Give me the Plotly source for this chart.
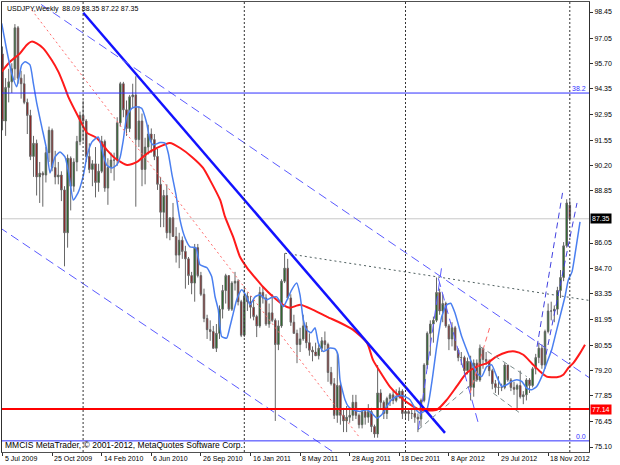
import plotly.graph_objects as go

# ---------------- weekly OHLC (bar 0 = week of 5 Jul 2009) ----------------
opens = [96.20, 92.60, 94.40, 94.70, 95.40, 97.60, 94.90, 94.60, 93.60, 92.90,
         90.70, 91.40, 89.60, 89.80, 89.70, 90.90, 92.10, 90.10, 89.60, 89.70,
         88.90, 86.60, 90.60, 89.10, 90.40, 91.50, 92.90, 92.60, 90.70, 90.00,
         90.30, 89.30, 89.90, 91.50, 89.00, 90.10, 90.50, 90.50, 92.50, 94.60,
         93.20, 92.20, 93.90, 94.00, 91.60, 92.60, 90.00, 91.20, 91.90, 91.60,
         90.70, 89.20, 87.70, 88.60, 86.60, 87.40, 86.40, 85.40, 86.20, 85.60,
         85.20, 84.30, 83.90, 85.80, 84.30, 83.30, 82.00, 81.40, 81.30, 80.40,
         81.20, 82.50, 83.50, 84.30, 82.50, 83.90, 84.00, 82.90, 81.10, 83.20,
         82.90, 82.60, 82.10, 81.60, 83.40, 83.10, 81.70, 82.30, 81.90, 80.60,
         81.60, 84.00, 84.70, 83.10, 81.80, 81.20, 80.60, 80.90, 81.60, 80.70,
         80.30, 80.20, 80.00, 80.40, 80.80, 80.60, 79.10, 78.50, 76.80, 78.40,
         76.80, 76.50, 76.70, 76.80, 77.50, 76.80, 76.30, 77.00, 76.70, 77.00,
         76.20, 75.80, 78.00, 77.50, 76.90, 77.70, 77.90, 77.60, 77.80, 78.10,
         76.90, 77.00, 76.90, 76.90, 76.70, 76.60, 77.60, 79.50, 81.20, 81.70,
         81.90, 83.40, 82.40, 82.80, 81.60, 80.90, 81.50, 80.30, 79.90, 79.90,
         79.20, 79.70, 78.30, 79.60, 78.70, 80.40, 79.80, 79.70, 79.20, 78.50,
         78.30, 78.30, 78.30, 79.50, 78.70, 78.30, 78.20, 78.40, 77.80, 77.90,
         78.70, 78.40, 79.30, 79.90, 80.40, 79.50, 81.30, 82.40, 82.40, 82.50,
         83.50, 84.20, 85.90, 88.09]
highs = [96.60, 94.90, 95.40, 95.70, 97.80, 97.70, 95.30, 95.10, 93.80, 93.20,
         91.80, 91.60, 90.40, 89.90, 91.20, 92.30, 92.20, 91.00, 90.40, 89.90,
         89.10, 90.80, 90.70, 90.60, 91.80, 93.10, 93.70, 92.70, 91.40, 90.50,
         91.20, 90.30, 91.80, 91.60, 90.60, 90.90, 90.90, 92.80, 94.70, 94.70,
         93.70, 94.00, 94.60, 95.00, 93.40, 93.00, 91.70, 92.40, 92.20, 91.90,
         91.10, 89.60, 88.90, 89.20, 87.40, 88.20, 86.90, 86.60, 86.40, 85.90,
         85.30, 84.50, 86.00, 86.00, 84.50, 83.60, 82.20, 81.90, 81.60, 81.70,
         82.70, 83.80, 84.40, 84.30, 84.00, 84.50, 84.10, 83.00, 83.70, 83.40,
         83.20, 83.00, 82.20, 83.70, 83.70, 83.30, 82.80, 83.30, 82.00, 81.90,
         84.10, 85.50, 85.20, 83.30, 82.20, 81.40, 81.50, 82.20, 81.80, 81.20,
         80.50, 80.70, 80.60, 81.00, 81.30, 80.70, 79.40, 78.80, 80.20, 78.60,
         77.20, 77.30, 77.20, 77.90, 77.90, 76.90, 77.10, 77.10, 77.40, 77.20,
         76.30, 79.50, 78.20, 77.60, 77.80, 78.00, 78.10, 78.20, 78.30, 78.20,
         77.20, 77.10, 77.20, 77.10, 76.90, 77.70, 79.60, 81.30, 81.90, 82.10,
         84.20, 83.60, 83.30, 82.90, 81.70, 81.80, 81.60, 80.40, 80.20, 80.00,
         79.90, 80.00, 79.80, 79.80, 80.60, 80.40, 80.20, 79.80, 79.30, 78.70,
         78.90, 78.50, 79.60, 79.50, 78.80, 78.60, 78.50, 79.20, 78.10, 78.80,
         78.80, 79.40, 80.10, 80.70, 80.60, 81.40, 82.80, 82.90, 82.70, 83.70,
         84.60, 86.10, 88.40, 88.35]
lows = [92.10, 91.80, 93.60, 94.10, 94.80, 94.60, 93.80, 93.50, 91.90, 90.50,
        89.60, 88.60, 88.20, 88.00, 89.30, 90.40, 89.90, 89.20, 89.20, 88.30,
        84.80, 85.80, 87.80, 88.80, 89.90, 91.30, 91.50, 90.40, 89.80, 89.10,
        88.50, 88.80, 89.80, 88.80, 88.10, 89.80, 89.40, 90.20, 92.30, 92.80,
        91.80, 92.00, 93.30, 88.00, 91.20, 89.10, 89.20, 90.80, 90.90, 90.50,
        88.90, 86.90, 86.90, 86.30, 86.20, 86.40, 85.00, 84.70, 85.20, 83.60,
        83.80, 83.30, 82.90, 84.20, 83.20, 81.80, 80.90, 80.80, 80.40, 80.20,
        80.90, 82.00, 82.80, 82.40, 82.40, 83.50, 82.70, 81.00, 81.00, 82.40,
        82.00, 81.90, 81.00, 81.50, 82.80, 81.60, 81.50, 81.80, 76.50, 80.30,
        81.50, 83.90, 83.00, 81.60, 81.20, 79.60, 80.20, 80.80, 80.40, 80.00,
        79.70, 80.00, 79.80, 80.20, 80.30, 78.60, 78.40, 76.60, 76.40, 76.30,
        75.90, 75.90, 76.40, 76.50, 76.60, 76.10, 76.10, 76.30, 76.40, 75.90,
        75.60, 75.60, 77.20, 76.60, 76.60, 77.30, 77.40, 77.50, 77.70, 76.60,
        76.60, 76.50, 76.60, 76.40, 75.90, 76.20, 77.50, 79.30, 80.00, 80.70,
        81.80, 82.20, 81.80, 81.50, 80.30, 80.50, 80.30, 79.70, 79.50, 79.00,
        79.00, 77.60, 77.80, 78.60, 78.60, 79.30, 79.50, 78.90, 78.20, 78.00,
        77.90, 78.10, 78.20, 78.60, 78.10, 77.90, 77.10, 77.70, 77.40, 77.60,
        78.00, 78.30, 79.00, 79.60, 79.30, 79.30, 81.20, 81.90, 81.80, 82.20,
        83.10, 84.00, 85.80, 87.22]
closes = [92.60, 94.40, 94.70, 95.40, 97.60, 94.90, 94.60, 93.60, 92.90, 90.70,
          91.40, 89.60, 89.80, 89.70, 90.90, 92.10, 90.10, 89.60, 89.70, 88.90,
          86.60, 90.60, 89.10, 90.40, 91.50, 92.90, 92.60, 90.70, 90.00, 90.30,
          89.30, 89.90, 91.50, 89.00, 90.10, 90.50, 90.50, 92.50, 94.60, 93.20,
          92.20, 93.90, 94.00, 91.60, 92.60, 90.00, 91.20, 91.90, 91.60, 90.70,
          89.20, 87.70, 88.60, 86.60, 87.40, 86.40, 85.40, 86.20, 85.60, 85.20,
          84.30, 83.90, 85.80, 84.30, 83.30, 82.00, 81.40, 81.30, 80.40, 81.20,
          82.50, 83.50, 84.30, 82.50, 83.90, 84.00, 82.90, 81.10, 83.20, 82.90,
          82.60, 82.10, 81.60, 83.40, 83.10, 81.70, 82.30, 81.90, 80.60, 81.60,
          84.00, 84.70, 83.10, 81.80, 81.20, 80.60, 80.90, 81.60, 80.70, 80.30,
          80.20, 80.00, 80.40, 80.80, 80.60, 79.10, 78.50, 76.80, 78.40, 76.80,
          76.50, 76.70, 76.80, 77.50, 76.80, 76.30, 77.00, 76.70, 77.00, 76.20,
          75.80, 78.00, 77.50, 76.90, 77.70, 77.90, 77.60, 77.80, 78.10, 76.90,
          77.00, 76.90, 76.90, 76.70, 76.60, 77.60, 79.50, 81.20, 81.70, 81.90,
          83.40, 82.40, 82.80, 81.60, 80.90, 81.50, 80.30, 79.90, 79.90, 79.20,
          79.70, 78.30, 79.60, 78.70, 80.40, 79.80, 79.70, 79.20, 78.50, 78.30,
          78.30, 78.30, 79.50, 78.70, 78.30, 78.20, 78.40, 77.80, 77.90, 78.70,
          78.40, 79.30, 79.90, 80.40, 79.50, 81.30, 82.40, 82.40, 82.50, 83.50,
          84.20, 85.90, 88.20, 87.35]
bars = list(range(len(closes)))

# ---------------- axis labels ----------------
tick_bars = [0, 16, 32, 48, 64, 80, 96, 112, 128, 144, 160, 176]
tick_labels = ["5 Jul 2009", "25 Oct 2009", "14 Feb 2010", "6 Jun 2010",
               "26 Sep 2010", "16 Jan 2011", "8 May 2011", "28 Aug 2011",
               "18 Dec 2011", "8 Apr 2012", "29 Jul 2012", "18 Nov 2012"]
year_start_bars = [26, 78, 130, 183]
price_ticks = [98.45, 97.05, 95.70, 94.35, 92.95, 91.55, 90.20, 88.85, 86.05,
               84.70, 83.35, 81.95, 80.55, 79.20, 77.85, 76.45, 75.10]
price_tick_text = ["98.45", "97.05", "95.70", "94.35", "92.95", "91.55", "90.20",
                   "88.85", "86.05", "84.70", "83.35", "81.95", "80.55", "79.20",
                   "77.85", "76.45", "75.10"]

# ---------------- indicator lines ----------------
red_ma_bars = [-0.26, 2.42, 5.65, 7.81, 9.42, 11.03, 13.16, 15.87, 18.0, 19.6,
               21.2, 24.45, 27.3, 30.4, 33.7, 36.3, 40.2, 43.4, 46.6, 49.8,
               54.0, 57.3, 61.1, 64.7, 66.9, 70.2, 71.8, 74.4, 76.6, 78.9,
               82.1, 84.0, 87.3, 90.5, 92.7, 96.0, 100.2, 104.7, 108.9, 113.1,
               117.6, 119.5, 122.4, 125.0, 128.2, 132.4, 134.7, 140.1, 143.3, 146.5,
               149.7, 153.0, 156.2, 159.4, 162.6, 165.3, 168.0, 170.7, 173.4, 175.5,
               178.8, 180.9, 182.5, 184.1, 186.3, 187.9]
red_ma_vals = [95.25, 95.78, 96.23, 96.68, 96.86, 96.77, 96.50, 95.87, 95.25, 94.62,
               93.91, 92.83, 91.96, 91.69, 91.04, 90.60, 90.24, 90.40, 90.85, 91.15,
               91.42, 91.15, 90.67, 90.08, 89.44, 88.36, 87.45, 86.38, 85.31, 84.72,
               84.07, 83.70, 83.16, 82.73, 82.57, 82.73, 82.46, 82.09, 81.77, 81.39,
               80.69, 79.78, 78.98, 78.33, 77.80, 77.28, 77.10, 77.10, 77.63, 78.35,
               79.07, 79.42, 79.60, 79.96, 80.19, 80.23, 80.05, 79.60, 79.15, 78.88,
               78.85, 78.98, 79.34, 79.60, 80.14, 80.59]
blue_ma_bars = [-0.26, 1.35, 2.97, 4.58, 6.19, 7.26, 8.87, 9.94, 11.03, 12.65,
                14.26, 15.32, 16.94, 18.55, 20.16, 21.45, 22.84, 24.35, 25.97, 27.35,
                28.87, 30.90, 32.52, 33.61, 35.23, 36.84, 37.90, 38.97, 40.06, 41.68,
                43.29, 44.90, 46.52, 47.58, 48.65, 50.81, 52.42, 53.48, 54.68, 55.97,
                57.26, 58.87, 60.48, 62.42, 63.71, 65.97, 67.48, 68.55, 69.61, 70.71,
                72.32, 73.39, 74.45, 75.55, 77.16, 78.77, 79.84, 81.45, 83.06, 85.23,
                86.61, 88.45, 90.58, 92.10, 93.29, 94.90, 95.97, 97.03, 98.13, 99.52,
                100.81, 101.87, 103.48, 105.65, 107.26, 108.23, 108.87, 110.48, 111.55, 113.16,
                115.32, 117.48, 119.10, 120.71, 122.32, 123.94, 125.55, 127.16, 129.19, 131.45,
                133.39, 134.68, 136.84, 138.45, 140.06, 141.68, 143.29, 144.58, 145.97, 148.13,
                149.74, 151.35, 152.97, 154.58, 156.19, 157.81, 159.42, 161.03, 162.65, 164.26,
                165.87, 167.48, 169.10, 170.71, 172.32, 173.94, 175.55, 177.16, 178.77, 179.84,
                181.45, 182.52, 183.71, 185.0, 186.29]
blue_ma_vals = [97.84, 96.41, 95.16, 94.44, 95.61, 95.78, 95.61, 94.63, 93.57, 92.30,
                91.05, 89.81, 90.67, 90.94, 90.67, 89.71, 88.36, 88.74, 89.60, 90.78,
                91.48, 91.74, 90.78, 90.24, 90.07, 90.24, 90.62, 91.58, 92.82, 93.28,
                93.37, 93.28, 92.48, 91.58, 91.31, 91.44, 91.41, 90.87, 89.71, 88.63,
                87.29, 86.33, 85.84, 85.79, 84.88, 84.72, 84.25, 83.18, 82.46, 81.03,
                80.94, 81.57, 82.29, 83.00, 83.54, 83.16, 82.73, 83.16, 83.27, 83.00,
                83.11, 83.16, 82.64, 83.11, 83.54, 83.90, 83.27, 81.93, 81.39, 81.23,
                81.50, 80.68, 80.23, 80.41, 80.37, 80.05, 78.71, 77.64, 77.28, 77.10,
                77.01, 77.10, 76.92, 76.65, 76.83, 77.28, 77.64, 77.81, 77.85, 77.64,
                77.10, 76.92, 77.10, 78.53, 80.49, 82.10, 82.73, 82.82, 82.29, 81.03,
                80.32, 79.62, 79.08, 78.88, 79.42, 79.51, 78.88, 78.35, 78.44, 78.62,
                78.71, 78.62, 78.26, 78.17, 78.35, 78.88, 79.60, 80.32, 81.39, 82.10,
                83.18, 84.07, 84.50, 85.79, 87.18]

# ---------------- drawn objects (bar, price anchors) ----------------
main_trend_bars = [26.06, 142.74]
main_trend_prices = [98.41, 75.86]
upper_channel_bars = [5.0, 190.0]
upper_channel_prices = [99.70, 78.74]
lower_channel_bars = [-1.0, 110.0]
lower_channel_prices = [86.89, 74.46]
red_dotted_bars = [9.42, 115.32]
red_dotted_prices = [98.56, 75.58]
gray_dotted_bars = [91.13, 190.0]
gray_dotted_prices = [85.50, 82.95]
rise_2012_bars = [134.13, 141.68]
rise_2012_prices = [76.03, 84.79]
fall_2012_bars = [140.58, 153.48]
fall_2012_prices = [84.16, 76.38]
red_dash_bars = [150.81, 157.26]
red_dash_prices = [77.99, 81.57]
gray_dash1_bars = [134.13, 152.97]
gray_dash1_prices = [76.03, 78.71]
gray_dash2_bars = [154.03, 169.10]
gray_dash2_prices = [80.49, 78.88]
gray_dash3_bars = [158.32, 166.94]
gray_dash3_prices = [77.99, 76.92]
steep_left_bars = [172.42, 180.81]
steep_left_prices = [80.48, 88.90]
steep_right_bars = [175.32, 185.32]
steep_right_prices = [80.05, 88.20]

fib_382_level = 94.10
fib_0_level = 75.43
support_level = 77.14
last_price = closes[-1]

FONT = "Liberation Sans"

fig = go.Figure()

fig.add_trace(go.Candlestick(
    x=bars, open=opens, high=highs, low=lows, close=closes,
    increasing=dict(fillcolor="#0b6b0b", line=dict(color="#666666", width=1)),
    decreasing=dict(fillcolor="#a00000", line=dict(color="#666666", width=1)),
    whiskerwidth=0, hoverinfo="skip", showlegend=False))

fig.add_trace(go.Scatter(x=red_ma_bars, y=red_ma_vals, mode="lines",
                         line=dict(color="#ff1a1a", width=2, shape="spline", smoothing=0.6),
                         hoverinfo="skip"))
fig.add_trace(go.Scatter(x=blue_ma_bars, y=blue_ma_vals, mode="lines",
                         line=dict(color="#4a7ff0", width=1.5, shape="spline", smoothing=0.5),
                         hoverinfo="skip"))

def seg(xs, ys, color, width, dash):
    fig.add_trace(go.Scatter(x=xs, y=ys, mode="lines",
                             line=dict(color=color, width=width, dash=dash),
                             hoverinfo="skip"))

seg(main_trend_bars, main_trend_prices, "#1212ff", 2.5, "solid")
seg(upper_channel_bars, upper_channel_prices, "#5a5aff", 1, "9px,5px")
seg(lower_channel_bars, lower_channel_prices, "#5a5aff", 1, "9px,5px")
seg(red_dotted_bars, red_dotted_prices, "#ff6a6a", 1, "2px,3px")
seg(gray_dotted_bars, gray_dotted_prices, "#4f5f5f", 1, "2px,3px")
seg(rise_2012_bars, rise_2012_prices, "#5a5aff", 1, "9px,5px")
seg(fall_2012_bars, fall_2012_prices, "#5a5aff", 1, "9px,5px")
seg(red_dash_bars, red_dash_prices, "#ff6a6a", 1, "5px,4px")
seg(gray_dash1_bars, gray_dash1_prices, "#7a8a8a", 1, "5px,4px")
seg(gray_dash2_bars, gray_dash2_prices, "#7a8a8a", 1, "5px,4px")
seg(gray_dash3_bars, gray_dash3_prices, "#7a8a8a", 1, "5px,4px")
seg(steep_left_bars, steep_left_prices, "#4040e0", 1, "6px,4px")
seg(steep_right_bars, steep_right_prices, "#4040e0", 1, "6px,4px")

shapes = []
for b in year_start_bars:
    shapes.append(dict(type="line", xref="x", yref="paper", x0=b, x1=b, y0=0, y1=1,
                       line=dict(color="#333333", width=1, dash="2px,2px"), layer="above"))
shapes.append(dict(type="line", xref="paper", yref="y", x0=0, x1=1, y0=last_price, y1=last_price,
                   line=dict(color="#c8c8c8", width=1), layer="below"))
shapes.append(dict(type="line", xref="paper", yref="y", x0=0, x1=1, y0=fib_382_level, y1=fib_382_level,
                   line=dict(color="#3030ff", width=1), layer="above"))
shapes.append(dict(type="line", xref="paper", yref="y", x0=0, x1=1, y0=fib_0_level, y1=fib_0_level,
                   line=dict(color="#3030ff", width=1), layer="above"))
shapes.append(dict(type="line", xref="paper", yref="y", x0=0, x1=1, y0=support_level, y1=support_level,
                   line=dict(color="#ff0000", width=2), layer="above"))

annotations = [
    dict(xref="paper", yref="paper", x=0, y=1, xanchor="left", yanchor="top",
         xshift=3, yshift=-1, showarrow=False,
         text="USDJPY,Weekly\u00a0\u00a0%.2f %.2f %.2f %.2f" % (opens[-1], highs[-1], lows[-1], closes[-1]),
         font=dict(family=FONT, size=7, color="black")),
    dict(xref="paper", yref="paper", x=0, y=0, xanchor="left", yanchor="bottom",
         xshift=1, yshift=0, showarrow=False,
         text="MMCIS MetaTrader, \u00a9 2001-2012, MetaQuotes Software Corp.",
         font=dict(family=FONT, size=8.5, color="black")),
    dict(xref="paper", yref="y", x=1, y=fib_382_level, xanchor="right", yanchor="bottom",
         xshift=-1, yshift=-1, showarrow=False, text="38.2",
         font=dict(family=FONT, size=7, color="#3030ff")),
    dict(xref="paper", yref="y", x=1, y=fib_0_level, xanchor="right", yanchor="bottom",
         xshift=-1, yshift=-1, showarrow=False, text="0.0",
         font=dict(family=FONT, size=7, color="#3030ff")),
    dict(xref="paper", yref="y", x=1, y=last_price, xanchor="left", yanchor="middle",
         xshift=1, showarrow=False, text="%.2f" % last_price, bgcolor="black", borderpad=1,
         font=dict(family=FONT, size=7, color="white")),
    dict(xref="paper", yref="y", x=1, y=support_level, xanchor="left", yanchor="middle",
         xshift=1, showarrow=False, text="%.2f" % support_level, bgcolor="#ff0000", borderpad=1,
         font=dict(family=FONT, size=7, color="white")),
]
# x-axis date labels, left-aligned just right of their tick (MetaTrader style)
for b, lab in zip(tick_bars, tick_labels):
    annotations.append(dict(xref="x", yref="paper", x=b, y=0, xanchor="left", yanchor="top",
                            xshift=0, yshift=-1, showarrow=False, text=lab,
                            font=dict(family=FONT, size=7, color="black")))

fig.update_layout(
    width=620, height=465,
    margin=dict(l=2, r=31, t=2, b=13),
    paper_bgcolor="white", plot_bgcolor="white",
    showlegend=False,
    font=dict(family=FONT, size=7, color="black"),
    shapes=shapes, annotations=annotations,
    xaxis=dict(range=[-0.16, 189.19], showgrid=False, zeroline=False,
               showline=True, linecolor="#505050", linewidth=1, mirror=True,
               ticks="outside", ticklen=3, tickcolor="#303030",
               tickvals=tick_bars, showticklabels=False,
               rangeslider=dict(visible=False), fixedrange=True),
    yaxis=dict(range=[74.832, 98.987], side="right", showgrid=False, zeroline=False,
               showline=True, linecolor="#303030", linewidth=1, mirror=True,
               ticks="outside", ticklen=3, tickcolor="#303030",
               tickvals=price_ticks, ticktext=price_tick_text,
               tickfont=dict(family=FONT, size=7, color="black"), fixedrange=True),
)

fig.write_html("out.html", config={"displayModeBar": False, "staticPlot": True},
               post_script="document.body.style.margin='0px';")
